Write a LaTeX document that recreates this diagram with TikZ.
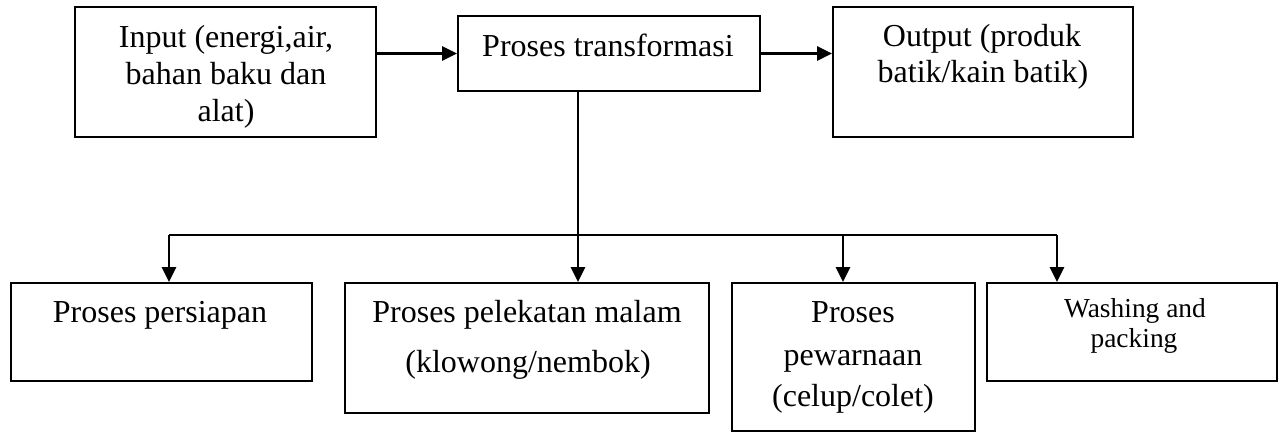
\documentclass[tikz,border=0pt]{standalone}
\usepackage{fontspec}
\setmainfont{Liberation Serif}
\usetikzlibrary{arrows.meta,fit}
\begin{document}
\begin{tikzpicture}[x=0.4375pt,y=-0.4375pt,
  box/.style={draw,line width=0.9pt,inner sep=0pt},
  txt/.style={anchor=base,inner sep=0pt,font=\fontsize{14}{16}\selectfont},
  small/.style={anchor=base,inner sep=0pt,font=\fontsize{12}{14}\selectfont},
  link/.style={line width=0.9pt},
  arr/.style={link,-{Triangle[length=6.5pt,width=6.2pt]}}]
\useasboundingbox (0,0) rectangle (1283,432);

% top row
\node[box,fit={(75,7) (376,137)}] (in) {};
\node[box,fit={(458,16) (760,91)}] (pt) {};
\node[box,fit={(833,7) (1133,137)}] (out) {};

\node[txt] (in1) at (226,48) {Input (energi,air,};
\node[txt] (in2) at (226,85) {bahan baku dan};
\node[txt] (in3) at (226,122) {alat)};
\node[txt] (pt1) at (608,57) {Proses transformasi};
\node[txt] (out1) at (982,47) {Output (produk};
\node[txt] (out2) at (983,83) {batik/kain batik)};

% bottom row
\node[box,fit={(11,283) (312,381)}] (prs) {};
\node[box,fit={(345,283) (709,413)}] (pel) {};
\node[box,fit={(732,283) (975,431)}] (pew) {};
\node[box,fit={(987,283) (1277,381)}] (wsh) {};

\node[txt] (prs1) at (160,323) {Proses persiapan};
\node[txt] (pel1) at (527,323) {Proses pelekatan malam};
\node[txt] (pel2) at (528,373) {(klowong/nembok)};
\node[txt] (pew1) at (853,323) {Proses};
\node[txt] (pew2) at (853,366) {pewarnaan};
\node[txt] (pew3) at (853,407) {(celup/colet)};
\node[small] (wsh1) at (1135,318) {Washing and};
\node[small] (wsh2) at (1134,348) {packing};

% flow along the top
\draw[arr] (pt.west -| in.east) -- (pt.west);
\draw[arr] (pt.east) -- (pt.east -| out.west);

% branching bus to the process steps
\coordinate (bL) at (169,235);
\coordinate (bM) at (578,235);
\coordinate (bC) at (843,235);
\coordinate (bR) at (1057,235);
\draw[link] (bL) -- (bR);
\draw[arr] (bM |- pt.south) -- (bM |- pel.north);
\draw[arr] (bL) -- (bL |- prs.north);
\draw[arr] (bC) -- (bC |- pew.north);
\draw[arr] (bR) -- (bR |- wsh.north);
\end{tikzpicture}
\end{document}
